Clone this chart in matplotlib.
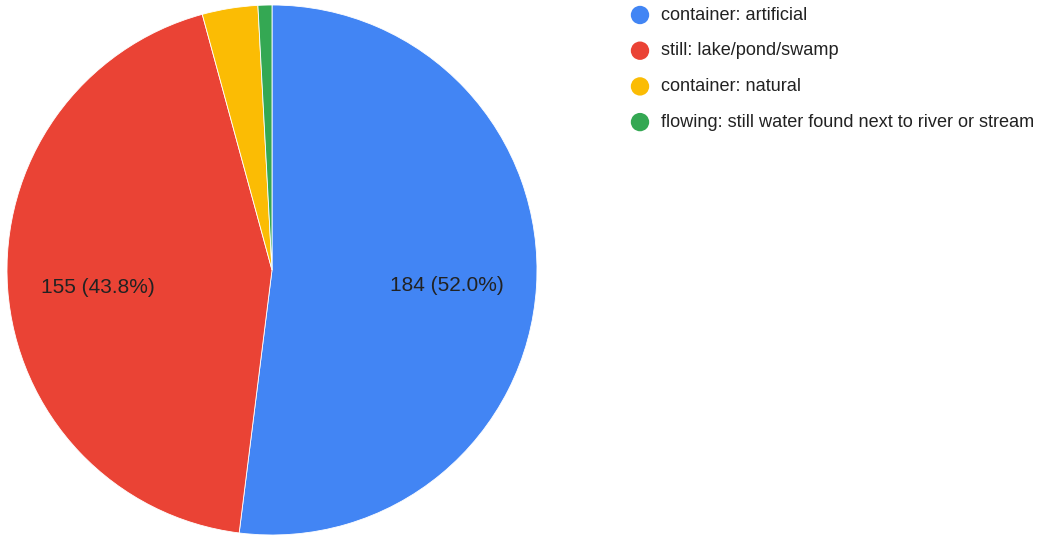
import matplotlib.pyplot as plt

plt.rcParams["font.family"] = ["Liberation Sans", "DejaVu Sans"]

# breeding site counts
categories = [
    "container: artificial",
    "still: lake/pond/swamp",
    "container: natural",
    "flowing: still water found next to river or stream",
]
counts = [184, 155, 12, 3]
colors = ["#4285F4", "#EA4335", "#FBBC04", "#34A853"]

TEXT = "#222222"
W, H = 1039, 537
total = sum(counts)


def slice_label(pct):
    if pct < 10:
        return ""
    value = int(round(pct * total / 100.0))
    return f"{value} ({pct:.1f}%)"


fig = plt.figure(figsize=(W / 100, H / 100), dpi=100)

# pie area: centre (272, 270) px, radius 265 px
ax = fig.add_axes([7 / W, 2 / H, 530 / W, 530 / H])
wedges, texts, autotexts = ax.pie(
    counts,
    colors=colors,
    startangle=90,
    counterclock=False,
    autopct=slice_label,
    pctdistance=0.66,
    wedgeprops={"edgecolor": "white", "linewidth": 0.6},
    textprops={"fontsize": 15, "color": TEXT},
)
# labels sit a little below the mid-angle line
for t in autotexts:
    x, y = t.get_position()
    t.set_position((x, y - 0.018))
ax.set_xlim(-1.0, 1.0)
ax.set_ylim(-1.0, 1.0)
ax.set_aspect("equal")
ax.axis("off")

# legend drawn in pixel coordinates
lax = fig.add_axes([0, 0, 1, 1], facecolor="none")
lax.set_xlim(0, W)
lax.set_ylim(H, 0)
lax.axis("off")
for i, (label, color) in enumerate(zip(categories, colors)):
    y = 15 + i * 35.7
    lax.scatter([640], [y], s=175, color=color, edgecolors="none")
    lax.text(661, y, label, fontsize=13.1, color=TEXT, va="center", ha="left")

fig.savefig("out.png", dpi=100)
